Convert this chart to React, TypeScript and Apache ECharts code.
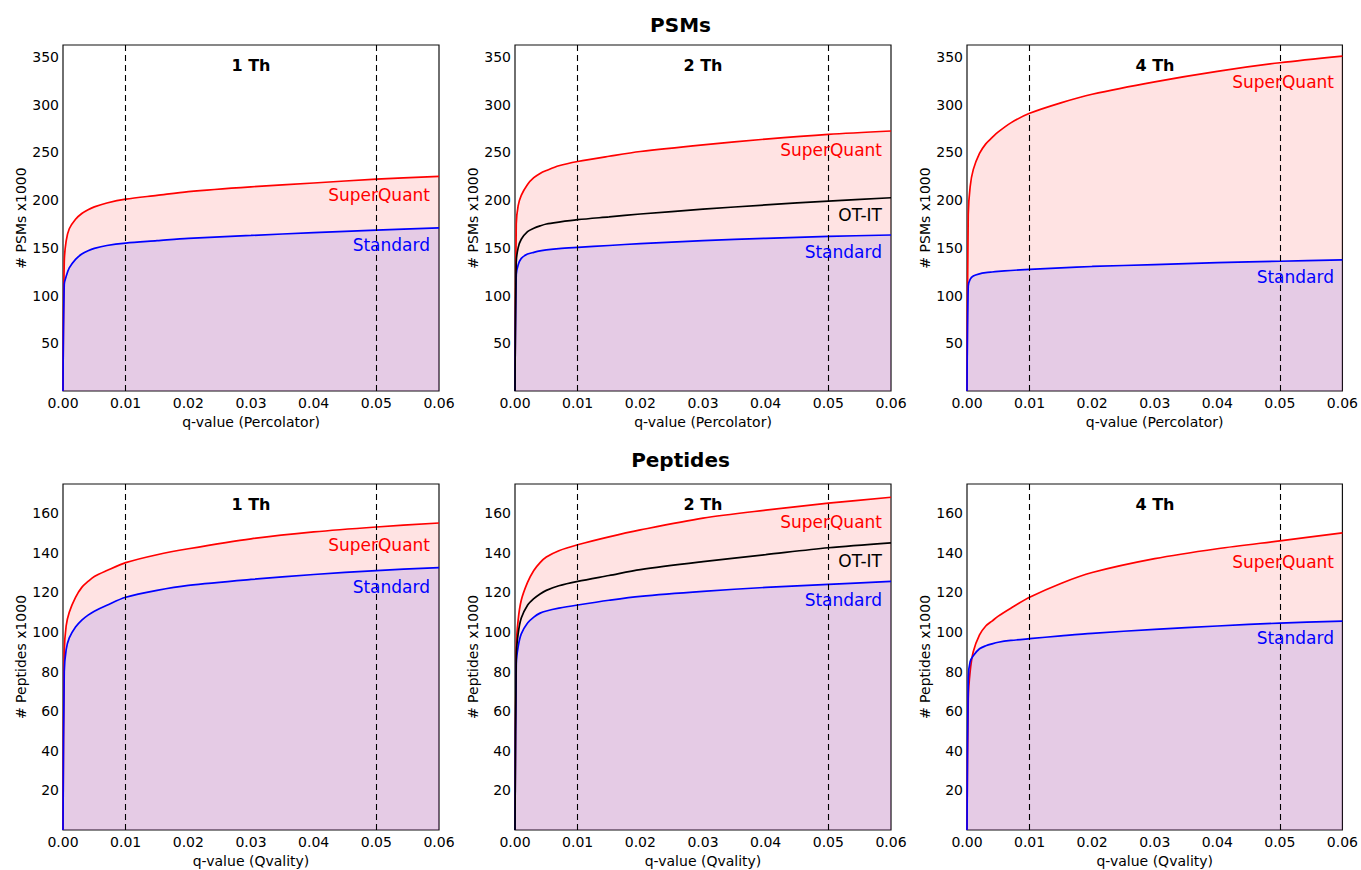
import React, { useEffect, useRef } from 'react';
import * as echarts from 'echarts';

// shared q-value sampling
const qValues = [0, 0.0002, 0.0005, 0.001, 0.002, 0.003, 0.004, 0.005, 0.007, 0.01, 0.015, 0.02, 0.03, 0.04, 0.05, 0.06];
const xTicks = [0, 0.01, 0.02, 0.03, 0.04, 0.05, 0.06];
const thresholds = [0.01, 0.05];

// PSMs (x1000), Percolator
const psm1SuperQuant = [0, 135, 157, 170, 180, 186, 190, 193, 197, 201, 205, 209, 214, 218, 222, 225];
const psm1Standard = [0, 112, 120, 129, 138, 143.5, 147, 149.5, 152.5, 155, 157.5, 160, 163, 166, 168.5, 171];

const psm2SuperQuant = [0, 175, 194, 205, 216.5, 223.5, 228, 231, 236, 240.5, 246, 251, 258, 264, 269, 272.5];
const psm2OTIT = [0, 135, 150, 159, 167, 170.5, 173, 175, 177, 179.5, 182.5, 185.5, 190.5, 195, 199, 202.5];
const psm2Standard = [0, 122, 132, 139, 143.5, 145.3, 146.8, 147.8, 149.2, 150.5, 152.5, 154.5, 157.5, 160, 162, 163.5];

const psm4SuperQuant = [0, 185, 214, 232, 249, 259, 265.5, 271.5, 281, 291, 302, 311, 324, 335, 344, 351];
const psm4Standard = [0, 110, 117, 120.5, 122.8, 124, 124.7, 125.3, 126.3, 127.5, 129, 130.5, 132.5, 134.5, 136, 137.5];

// Peptides (x1000), Qvality
const pep1SuperQuant = [0, 90, 103, 110, 117.5, 122.5, 125.5, 128, 131, 135, 139, 142, 147, 150.5, 153, 155];
const pep1Standard = [0, 80, 91, 97, 102.5, 106, 108.5, 110.5, 113.5, 117.5, 121, 123.5, 126.5, 129, 131, 132.5];

const pep2SuperQuant = [0, 92, 106, 116, 125, 131, 135, 137.8, 141, 144, 148, 151.5, 157.5, 161.5, 165, 168];
const pep2OTIT = [0, 88, 99, 107, 113.5, 116.8, 119.2, 121, 123.3, 125.5, 128.5, 131.5, 135.5, 139, 142.5, 145];
const pep2Standard = [0, 84, 92.5, 99, 104.5, 107.5, 109.5, 110.6, 112, 113.6, 116, 118, 120.5, 122.5, 124, 125.5];

const pep4SuperQuant = [0, 66, 80, 90, 98.5, 103, 105.5, 108, 112, 117.5, 124.5, 130, 137, 142, 146, 150];
const pep4Standard = [0, 77, 85, 88, 91.5, 93, 94, 94.8, 95.7, 96.6, 98, 99.3, 101.3, 103, 104.5, 105.5];

const psmYTicks = [50, 100, 150, 200, 250, 300, 350];
const pepYTicks = [20, 40, 60, 80, 100, 120, 140, 160];

const FONT = 'DejaVu Sans';

type S = { name: string; data: number[]; color: string; fill?: string; labelDy: number };
type Panel = { row: number; col: number; title: string; yMax: number; yInterval: number; yTicks: number[]; yName: string; xName: string; series: S[] };

const RED_FILL = 'rgba(255,0,0,0.11)';
const BLUE_FILL = 'rgba(0,0,255,0.1)';

const panels: Panel[] = [
  { row: 0, col: 0, title: '1 Th', yMax: 362.6, yInterval: 50, yTicks: psmYTicks, yName: '# PSMs x1000', xName: 'q-value (Percolator)',
    series: [
      { name: 'SuperQuant', data: psm1SuperQuant, color: '#ff0000', fill: RED_FILL, labelDy: 150 },
      { name: 'Standard', data: psm1Standard, color: '#0000ff', fill: BLUE_FILL, labelDy: 200 },
    ] },
  { row: 0, col: 1, title: '2 Th', yMax: 362.6, yInterval: 50, yTicks: psmYTicks, yName: '# PSMs x1000', xName: 'q-value (Percolator)',
    series: [
      { name: 'SuperQuant', data: psm2SuperQuant, color: '#ff0000', fill: RED_FILL, labelDy: 105 },
      { name: 'Standard', data: psm2Standard, color: '#0000ff', fill: BLUE_FILL, labelDy: 207 },
      { name: 'OT-IT', data: psm2OTIT, color: '#000000', labelDy: 170 },
    ] },
  { row: 0, col: 2, title: '4 Th', yMax: 362.6, yInterval: 50, yTicks: psmYTicks, yName: '# PSMs x1000', xName: 'q-value (Percolator)',
    series: [
      { name: 'SuperQuant', data: psm4SuperQuant, color: '#ff0000', fill: RED_FILL, labelDy: 37 },
      { name: 'Standard', data: psm4Standard, color: '#0000ff', fill: BLUE_FILL, labelDy: 232 },
    ] },
  { row: 1, col: 0, title: '1 Th', yMax: 174.7, yInterval: 20, yTicks: pepYTicks, yName: '# Peptides x1000', xName: 'q-value (Qvality)',
    series: [
      { name: 'SuperQuant', data: pep1SuperQuant, color: '#ff0000', fill: RED_FILL, labelDy: 61 },
      { name: 'Standard', data: pep1Standard, color: '#0000ff', fill: BLUE_FILL, labelDy: 103 },
    ] },
  { row: 1, col: 1, title: '2 Th', yMax: 174.7, yInterval: 20, yTicks: pepYTicks, yName: '# Peptides x1000', xName: 'q-value (Qvality)',
    series: [
      { name: 'SuperQuant', data: pep2SuperQuant, color: '#ff0000', fill: RED_FILL, labelDy: 38 },
      { name: 'Standard', data: pep2Standard, color: '#0000ff', fill: BLUE_FILL, labelDy: 116 },
      { name: 'OT-IT', data: pep2OTIT, color: '#000000', labelDy: 77 },
    ] },
  { row: 1, col: 2, title: '4 Th', yMax: 174.7, yInterval: 20, yTicks: pepYTicks, yName: '# Peptides x1000', xName: 'q-value (Qvality)',
    series: [
      { name: 'SuperQuant', data: pep4SuperQuant, color: '#ff0000', fill: RED_FILL, labelDy: 78 },
      { name: 'Standard', data: pep4Standard, color: '#0000ff', fill: BLUE_FILL, labelDy: 154 },
    ] },
];

const GRID_LEFTS = [63, 515, 967];
const GRID_TOPS = [45, 484];
const GRID_W = 376;
const GRID_H = 346;

export default function App() {
  const ref = useRef<HTMLDivElement>(null);
  useEffect(() => {
    const chart = echarts.init(ref.current!, null, { renderer: 'svg' });
    const grids: any[] = [];
    const xAxes: any[] = [];
    const yAxes: any[] = [];
    const series: any[] = [];
    const graphics: any[] = [
      { type: 'text', left: 'center', top: 15, style: { text: 'PSMs', font: `bold 20px "${FONT}"`, fill: '#000' } },
      { type: 'text', left: 'center', top: 450, style: { text: 'Peptides', font: `bold 20px "${FONT}"`, fill: '#000' } },
    ];
    panels.forEach((p, i) => {
      const left = GRID_LEFTS[p.col];
      const top = GRID_TOPS[p.row];
      grids.push({ left, top, width: GRID_W, height: GRID_H, show: true, borderColor: '#111', borderWidth: 1.2, backgroundColor: 'transparent', containLabel: false });
      xAxes.push({
        gridIndex: i, type: 'value', min: 0, max: 0.06, interval: 0.01,
        axisLine: { show: false }, axisTick: { show: false }, splitLine: { show: false },
        axisLabel: { fontFamily: FONT, fontSize: 14, color: '#000', margin: 5, formatter: (v: number) => xTicks.some(t => Math.abs(t - v) < 1e-9) ? v.toFixed(2) : '' },
        name: p.xName, nameLocation: 'middle', nameGap: 24, nameTextStyle: { fontFamily: FONT, fontSize: 14, color: '#000' },
      });
      yAxes.push({
        gridIndex: i, type: 'value', min: 0, max: p.yMax, interval: p.yInterval,
        axisLine: { show: false }, axisTick: { show: false }, splitLine: { show: false },
        axisLabel: { fontFamily: FONT, fontSize: 14, color: '#000', margin: 4, formatter: (v: number) => p.yTicks.some(t => Math.abs(t - v) < 1e-6) ? String(Math.round(v)) : '' },
        name: p.yName, nameLocation: 'middle', nameGap: 35, nameRotate: 90, nameTextStyle: { fontFamily: FONT, fontSize: 14, color: '#000' },
      });
      p.series.forEach((s, k) => {
        series.push({
          type: 'line', name: s.name, xAxisIndex: i, yAxisIndex: i,
          data: qValues.map((q, j) => [q, s.data[j]]),
          smooth: 0.3, showSymbol: false, symbol: 'none', silent: true,
          lineStyle: { color: s.color, width: 1.7 }, itemStyle: { color: s.color },
          areaStyle: s.fill ? { color: s.fill, opacity: 1 } : undefined,
          z: 2 + k,
          markLine: k === p.series.length - 1 ? {
            silent: true, symbol: 'none', label: { show: false },
            lineStyle: { color: '#000', type: [6, 4], width: 1.1 },
            data: thresholds.map(t => ({ xAxis: t })),
          } : undefined,
        });
        graphics.push({
          type: 'text', x: left + GRID_W - 9, y: top + s.labelDy, z: 100,
          style: { text: s.name, font: `17px "${FONT}"`, fill: s.color, align: 'right', verticalAlign: 'middle' },
        });
      });
      graphics.push({
        type: 'text', x: left + GRID_W / 2, y: top + 20, z: 100,
        style: { text: p.title, font: `bold 16px "${FONT}"`, fill: '#000', align: 'center', verticalAlign: 'middle' },
      });
    });
    chart.setOption({
      animation: false,
      backgroundColor: '#fff',
      grid: grids, xAxis: xAxes, yAxis: yAxes, series, graphic: graphics,
    });
    return () => chart.dispose();
  }, []);
  return <div ref={ref} style={{ position: 'absolute', left: 0, top: 0, width: 1361, height: 870, background: '#fff' }} />;
}
